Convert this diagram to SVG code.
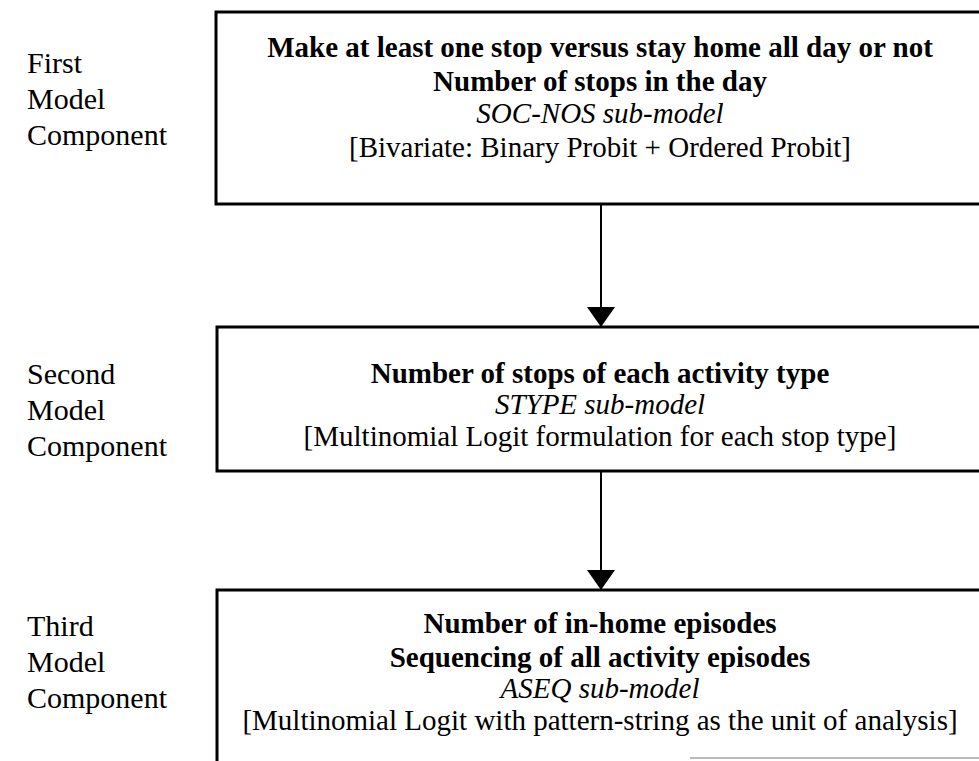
<svg xmlns="http://www.w3.org/2000/svg" width="979" height="761" viewBox="0 0 979 761">
  <style>
    .box { fill: none; stroke: #000; stroke-width: 3; }
    .edge { stroke: #000; stroke-width: 2; fill: none; }
    .t { font-family: "Liberation Serif", "Times New Roman", serif; font-size: 29px; fill: #000; text-anchor: middle; }
    .b { font-weight: bold; }
    .i { font-style: italic; }
    .lbl { font-family: "Liberation Serif", "Times New Roman", serif; font-size: 30px; fill: #000; }
  </style>
  <defs>
    <marker id="arrow" viewBox="0 0 20 28" refX="20" refY="14" markerWidth="20" markerHeight="28" markerUnits="userSpaceOnUse" orient="auto">
      <path d="M0,0 L20,14 L0,28 Z" fill="#000" transform="rotate(0)"/>
    </marker>
  </defs>
  <rect width="979" height="761" fill="#fff"/>

  <!-- stage labels -->
  <g id="label-first">
    <text class="lbl" x="27" y="73">First</text>
    <text class="lbl" x="27" y="109">Model</text>
    <text class="lbl" x="27" y="145">Component</text>
  </g>
  <g id="label-second">
    <text class="lbl" x="27" y="384">Second</text>
    <text class="lbl" x="27" y="420">Model</text>
    <text class="lbl" x="27" y="456">Component</text>
  </g>
  <g id="label-third">
    <text class="lbl" x="27" y="636">Third</text>
    <text class="lbl" x="27" y="672">Model</text>
    <text class="lbl" x="27" y="708">Component</text>
  </g>

  <!-- SOC-NOS sub-model -->
  <g id="soc-nos">
    <rect class="box" x="216" y="12" width="766" height="192"/>
    <text class="t b" x="600" y="57">Make at least one stop versus stay home all day or not</text>
    <text class="t b" x="600" y="91">Number of stops in the day</text>
    <text class="t i" x="600" y="123">SOC-NOS sub-model</text>
    <text class="t" x="600" y="157">[Bivariate: Binary Probit + Ordered Probit]</text>
  </g>

  <!-- STYPE sub-model -->
  <g id="stype">
    <rect class="box" x="217" y="327" width="765" height="144"/>
    <text class="t b" x="600" y="383">Number of stops of each activity type</text>
    <text class="t i" x="600" y="414">STYPE sub-model</text>
    <text class="t" x="600" y="446">[Multinomial Logit formulation for each stop type]</text>
  </g>

  <!-- ASEQ sub-model -->
  <g id="aseq">
    <path class="box" d="M217,762 L217,590 L982,590 L982,762"/>
    <line x1="690" y1="758" x2="979" y2="758" stroke="#bbb" stroke-width="2"/>
    <text class="t b" x="600" y="633">Number of in-home episodes</text>
    <text class="t b" x="600" y="667">Sequencing of all activity episodes</text>
    <text class="t i" x="600" y="698">ASEQ sub-model</text>
    <text class="t" x="600" y="730">[Multinomial Logit with pattern-string as the unit of analysis]</text>
  </g>

  <!-- connectors -->
  <g id="connectors">
    <line class="edge" x1="601" y1="204" x2="601" y2="327" marker-end="url(#arrow)"/>
    <line class="edge" x1="601" y1="471" x2="601" y2="590" marker-end="url(#arrow)"/>
  </g>
</svg>
